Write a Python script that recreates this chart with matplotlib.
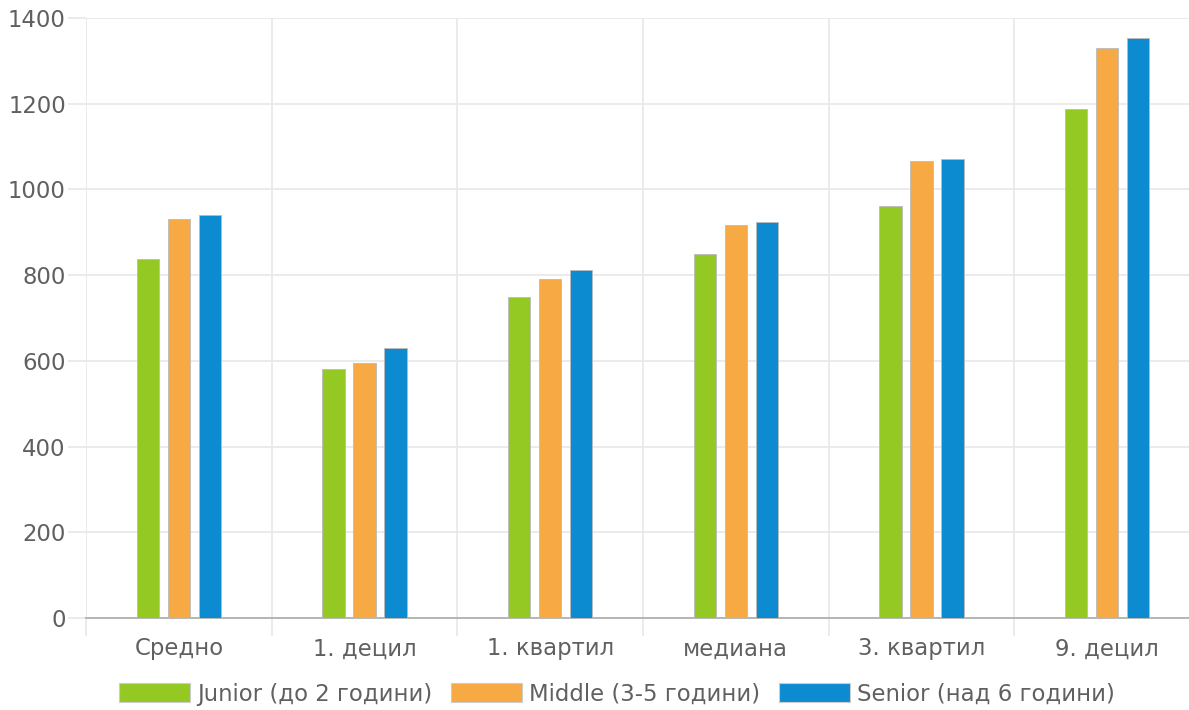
import matplotlib.pyplot as plt
import numpy as np
from matplotlib.patches import Patch

plt.rcParams['font.family'] = ['DejaVu Sans']

categories = ['Средно', '1. децил', '1. квартил', 'медиана', '3. квартил', '9. децил']
junior = [838, 581, 749, 849, 961, 1188]
middle = [931, 595, 791, 917, 1066, 1330]
senior = [940, 630, 812, 924, 1071, 1353]
series_names = ['Junior (до 2 години)', 'Middle (3-5 години)', 'Senior (над 6 години)']
colors = ['#94c924', '#f7a944', '#0c8bd0']

fig = plt.figure(figsize=(11.89, 7.10), dpi=100)
# plot area runs past the right edge, as in the reference
ax = fig.add_axes([86 / 1189, 92 / 710, 1114 / 1189, 600 / 710])

x = np.arange(len(categories))
width = 0.119
step = 0.167
for i, (vals, c) in enumerate(zip([junior, middle, senior], colors)):
    ax.bar(x + (i - 1) * step, vals, width, color=c, edgecolor='#bbbbbb',
           linewidth=0.6, zorder=3)

ax.set_xlim(-0.5, len(categories) - 0.5)
ax.set_ylim(0, 1400)
ax.set_yticks(range(0, 1401, 200))
ax.set_xticks(x)
ax.set_xticklabels(categories)
ax.set_xticks(np.arange(-0.5, len(categories), 1), minor=True)

ax.grid(axis='y', color='#e8e8e8', linewidth=1.2, zorder=0)
ax.grid(axis='x', which='minor', color='#e8e8e8', linewidth=1.2, zorder=0)
for s in ['top', 'right', 'left']:
    ax.spines[s].set_visible(False)
ax.spines['bottom'].set_color('#aaaaaa')
ax.spines['bottom'].set_linewidth(1.2)

fs = 16.4
ax.tick_params(axis='y', length=13, color='#e8e8e8', width=1.2, labelsize=fs,
               labelcolor='#606060', pad=1.5)
ax.tick_params(axis='x', which='major', length=0, labelsize=fs,
               labelcolor='#606060', pad=14)
ax.tick_params(axis='x', which='minor', length=13, color='#e8e8e8', width=1.2)

handles = [Patch(facecolor=c, edgecolor='#cccccc', linewidth=0.8) for c in colors]
fig.legend(handles, series_names, loc='center', bbox_to_anchor=(617 / 1189, 1 - 694 / 710),
           ncol=3, frameon=False, fontsize=fs, handlelength=3.1, handleheight=0.9,
           handletextpad=0.3, columnspacing=0.85, labelcolor='#606060')

fig.savefig('out.png', dpi=100)
